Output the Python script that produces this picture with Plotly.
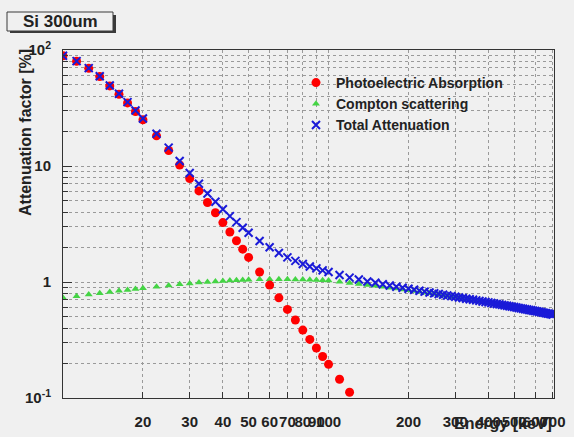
import plotly.graph_objects as go

# Photon energy grid [keV]
energy = [10, 11.25, 12.5, 13.75, 15, 16.25, 17.5, 18.75, 20, 22.5, 25, 27.5, 30,
          32.5, 35, 37.5, 40, 42.5, 45, 47.5, 50, 55, 60, 65, 70, 75, 80, 85, 90,
          95, 100, 110, 120, 130, 140, 150, 160, 170, 180, 190, 200, 210, 220, 230,
          240, 250, 260, 270, 280, 290, 300, 310, 320, 330, 340, 350, 360, 370,
          380, 390, 400, 410, 420, 430, 440, 450, 460, 470, 480, 490, 500, 510,
          520, 530, 540, 550, 560, 570, 580, 590, 600, 610, 620, 630, 640, 650,
          660, 670, 680, 690, 700]

# Attenuation factor [%] in 300 um of Si
photoelectric = [89, 80, 69.5, 59, 49, 41.5, 35, 29.5, 25, 18.2, 13.6, 10.2, 7.8,
                 6.1, 4.85, 3.95, 3.25, 2.7, 2.27, 1.92, 1.63, 1.22, 0.94, 0.73,
                 0.58, 0.47, 0.385, 0.32, 0.27, 0.228, 0.195, 0.145, 0.112]

compton = [0.73, 0.755, 0.78, 0.80, 0.82, 0.84, 0.855, 0.87, 0.885, 0.91, 0.935,
           0.955, 0.972, 0.988, 1.0, 1.012, 1.022, 1.03, 1.037, 1.043, 1.048,
           1.055, 1.058, 1.058, 1.056, 1.053, 1.049, 1.045, 1.04, 1.035, 1.03,
           1.005, 0.982, 0.962, 0.944, 0.927, 0.909, 0.892, 0.877, 0.862, 0.849,
           0.835, 0.822, 0.809, 0.798, 0.787, 0.776, 0.766, 0.757, 0.748, 0.739,
           0.730, 0.721, 0.713, 0.705, 0.697, 0.690, 0.683, 0.676, 0.669, 0.663,
           0.656, 0.650, 0.644, 0.638, 0.632, 0.626, 0.621, 0.615, 0.610, 0.605,
           0.600, 0.595, 0.590, 0.586, 0.581, 0.577, 0.572, 0.568, 0.564, 0.560,
           0.556, 0.552, 0.548, 0.544, 0.541, 0.537, 0.533, 0.530, 0.526, 0.523]

total = [89.08, 80.15, 69.74, 59.33, 49.42, 41.99, 35.56, 30.11, 25.66, 18.94,
         14.41, 11.06, 8.69, 7.03, 5.80, 4.92, 4.24, 3.70, 3.28, 2.94, 2.66, 2.26,
         1.99, 1.78, 1.63, 1.52, 1.43, 1.36, 1.31, 1.26, 1.22,
         1.15, 1.09, 1.05, 1.01, 0.985, 0.957, 0.932, 0.911, 0.891, 0.874,
         0.857, 0.841, 0.826, 0.812, 0.800, 0.788, 0.776, 0.766, 0.756, 0.747,
         0.736, 0.727, 0.718, 0.710, 0.702, 0.694, 0.687, 0.680, 0.673, 0.667,
         0.660, 0.653, 0.647, 0.641, 0.635, 0.629, 0.624, 0.618, 0.613, 0.608,
         0.603, 0.597, 0.592, 0.588, 0.583, 0.579, 0.574, 0.570, 0.566, 0.562,
         0.558, 0.554, 0.550, 0.546, 0.542, 0.538, 0.534, 0.531, 0.527, 0.524]

x_ticks = [20, 30, 40, 50, 60, 70, 80, 90, 100, 200, 300, 400, 500, 600, 700]
x_ticklabels = ["20", "30", "40", "50", "60", "70", "80", "90", "100",
                "200", "300", "400", "500", "600", "700"]
y_ticks = [0.1, 1, 10, 100]
y_ticklabels = ["10<sup>-1</sup>", "1", "10", "10<sup>2</sup>"]
y_minor = [0.2, 0.3, 0.4, 0.5, 0.6, 0.7, 0.8, 0.9,
           2, 3, 4, 5, 6, 7, 8, 9,
           20, 30, 40, 50, 60, 70, 80, 90]

W, H = 574, 437
L, R, T, B = 63, 20, 50, 39
PW, PH = W - L - R, H - T - B
BG = "#f0f0f0"
FONT = "Liberation Sans, Arial, Helvetica, sans-serif"


def fx(px):
    return (px - L) / PW


def fy(py):
    return (H - B - py) / PH


fig = go.Figure()

fig.add_trace(go.Scatter(
    x=energy[:len(compton)], y=compton, mode="markers",
    name="Compton scattering", legendrank=2,
    marker=dict(symbol="triangle-up", size=7, color="#44d444"),
))
fig.add_trace(go.Scatter(
    x=energy[:len(photoelectric)], y=photoelectric, mode="markers",
    name="Photoelectric Absorption", legendrank=1,
    marker=dict(symbol="circle", size=9, color="#ff0000"),
))
fig.add_trace(go.Scatter(
    x=energy[:len(total)], y=total, mode="markers",
    name="Total Attenuation", legendrank=3,
    marker=dict(symbol="x-thin", size=8, color="#1a1ad8",
                line=dict(color="#1a1ad8", width=2)),
))

grid = dict(showgrid=True, gridcolor="#9a9a9a", gridwidth=1, griddash="dot")

fig.update_xaxes(
    type="log", range=[1, 2.849], automargin=False,
    tickmode="array", tickvals=x_ticks, ticktext=x_ticklabels, tickangle=0,
    ticks="inside", ticklen=6, tickcolor="#333",
    tickfont=dict(family=FONT, size=15, color="#222", weight="bold"),
    ticklabelstandoff=10,
    showline=True, linecolor="#333", linewidth=1, mirror=True,
    zeroline=False, **grid,
)
fig.update_yaxes(
    type="log", range=[-1, 2], automargin=False,
    tickmode="array", tickvals=y_ticks, ticktext=y_ticklabels,
    ticks="inside", ticklen=9, tickcolor="#333",
    tickfont=dict(family=FONT, size=15, color="#222", weight="bold"),
    ticklabelstandoff=8,
    minor=dict(tickvals=y_minor, ticks="inside", ticklen=5, tickcolor="#333",
               showgrid=True, gridcolor="#9a9a9a", griddash="dot"),
    showline=True, linecolor="#333", linewidth=1, mirror=True,
    zeroline=False, **grid,
)

# Title pave with drop shadow
fig.add_shape(type="rect", xref="paper", yref="paper",
              x0=fx(10), x1=fx(116), y0=fy(15), y1=fy(33),
              fillcolor="#3a3a3a", line=dict(width=0), layer="above")
fig.add_shape(type="rect", xref="paper", yref="paper",
              x0=fx(7), x1=fx(113), y0=fy(12), y1=fy(31),
              fillcolor=BG, line=dict(color="#3a3a3a", width=1), layer="above")

annotations = [
    dict(text="Si 300um", x=fx(60), y=fy(22), xanchor="center", yanchor="middle",
         font=dict(family=FONT, size=17, color="#222", weight="bold")),
    dict(text="Energy [keV]", x=fx(554), y=fy(423), xanchor="right",
         yanchor="middle",
         font=dict(family=FONT, size=16, color="#222", weight="bold")),
    dict(text="Attenuation factor [%]", x=fx(25), y=fy(133), textangle=-90,
         xanchor="center", yanchor="middle",
         font=dict(family=FONT, size=16, color="#222", weight="bold")),
]
for a in annotations:
    a.update(xref="paper", yref="paper", showarrow=False)

fig.update_layout(
    width=W, height=H,
    margin=dict(l=L, r=R, t=T, b=B, pad=0, autoexpand=False),
    paper_bgcolor=BG, plot_bgcolor=BG,
    annotations=annotations,
    showlegend=True,
    legend=dict(x=fx(296), y=fy(67), xanchor="left", yanchor="top",
                bgcolor="rgba(0,0,0,0)", borderwidth=0,
                font=dict(family=FONT, size=14, color="#222", weight="bold"),
                itemwidth=30, tracegroupgap=0),
)

fig.write_html("out.html")
